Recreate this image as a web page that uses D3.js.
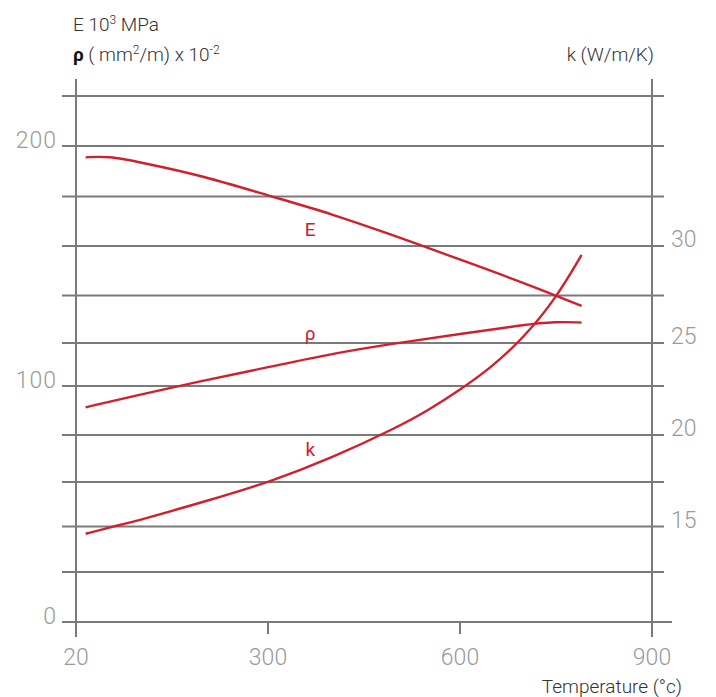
<!DOCTYPE html>
<html><head><meta charset="utf-8">
<script src="https://cdn.jsdelivr.net/npm/d3@7"></script>
<style>
body{margin:0;background:#fff;}
svg{display:block;font-family:Roboto,"Noto Sans",sans-serif;}
</style></head>
<body><svg id="c" width="716" height="697"></svg>
<script>
// ---- data ----
const leftTickValues = [0,20,40,60,80,100,120,140,160,180,200,220];
const leftTickLabels = {0:"0",100:"100",200:"200"};
const rightTickValues = [15,20,25,30];
const xTickValues = [0,300,600,900];
const xTickLabels = ["20","300","600","900"];
// E (10^3 MPa), left scale
const eTemp  = [15,50,100,200,300,400,500,542,600,700,790];
const eVal   = [195.5,196,193.6,188.1,180.4,173,163.9,160,154.5,145.1,135.6];
// rho (mm2/m x 10^-2), left scale
const rTemp  = [15,100,200,300,400,500,600,700,750,790];
const rVal   = [91.3,96.5,102.6,108.7,115.1,119.9,123.8,127.7,129,128.6];
// k (W/m/K), right scale
const kTemp  = [15,58,100,200,303,400,500,550,600,650,700,750,790];
const kVal   = [14.6,15,15.36,16.39,17.5,18.78,20.36,21.25,22.3,23.6,25.3,27.35,29.55];
const curveLabels = [
  {text:"E", t:366, v:166.9},
  {text:"ρ", t:366, v:124.2},
  {text:"k", t:366, v:74}
];

// ---- layout ----
const gridY = [622,572,526.5,482,435,386,343,295.5,246,196.5,146,96];
const red = "#d0202e", grid = "#7a7a7a";
const svg = d3.select("#c");
const x = d3.scaleLinear().domain([0,900]).range([76,652]);
const yL = d3.scaleLinear().domain(leftTickValues).range(gridY);
const yR = d3.scaleLinear().domain(leftTickValues.map(v=>10+v/8)).range(gridY);

const x0 = x(0)-14, x1 = x(900)+12;
svg.append("g").selectAll("line").data(leftTickValues).join("line")
  .attr("x1",x0).attr("x2",d=>d===0? x1+8 : x1)
  .attr("y1",d=>yL(d)).attr("y2",d=>yL(d))
  .attr("stroke",grid).attr("stroke-width",2);
[0,900].forEach(t=>{
  svg.append("line").attr("x1",x(t)).attr("x2",x(t)).attr("y1",79).attr("y2",yL(0)+15)
    .attr("stroke",grid).attr("stroke-width",2);
});
svg.append("g").selectAll("line").data(xTickValues.slice(1,3)).join("line")
  .attr("x1",d=>x(d)).attr("x2",d=>x(d)).attr("y1",yL(0)).attr("y2",yL(0)+12)
  .attr("stroke",grid).attr("stroke-width",2);

const tickStyle = s=>s.attr("fill","#9a9a9a").attr("font-size",23).attr("font-weight",300);
svg.append("g").selectAll("text").data(leftTickValues.filter(v=>leftTickLabels[v]!==undefined)).join("text")
  .attr("x",57).attr("y",d=>yL(d)+2).attr("text-anchor","end")
  .attr("letter-spacing",1)
  .text(d=>leftTickLabels[d]).call(tickStyle);
svg.append("g").selectAll("text").data(rightTickValues).join("text")
  .attr("x",671).attr("y",d=>yR(d)+1).attr("text-anchor","start")
  .text(d=>d).call(tickStyle);
svg.append("g").selectAll("text").data(xTickValues).join("text")
  .attr("x",d=>x(d)).attr("y",665).attr("text-anchor","middle")
  .text((d,i)=>xTickLabels[i]).call(tickStyle);

const t1 = svg.append("text").attr("x",73).attr("y",31).attr("fill","#333").attr("font-size",19).attr("font-weight",300);
t1.append("tspan").text("E 10");
t1.append("tspan").attr("font-size",12).attr("dy",-7).text("3");
t1.append("tspan").attr("dy",7).text(" MPa");
const t2 = svg.append("text").attr("x",73).attr("y",61).attr("fill","#333").attr("font-size",19).attr("font-weight",300);
t2.append("tspan").attr("font-weight",700).attr("fill","#111").text("ρ");
t2.append("tspan").text(" ( mm");
t2.append("tspan").attr("font-size",12).attr("dy",-7).text("2");
t2.append("tspan").attr("dy",7).text("/m) x 10");
t2.append("tspan").attr("font-size",12).attr("dy",-7).text("-2");
svg.append("text").attr("x",654).attr("y",61).attr("text-anchor","end").attr("fill","#333")
  .attr("font-size",19).attr("font-weight",300).text("k (W/m/K)");
svg.append("text").attr("x",682).attr("y",693).attr("text-anchor","end").attr("fill","#333")
  .attr("font-size",19).attr("font-weight",300).text("Temperature (°c)");

const lineL = d3.line().x(d=>x(d[0])).y(d=>yL(d[1])).curve(d3.curveBasis);
const lineR = d3.line().x(d=>x(d[0])).y(d=>yR(d[1])).curve(d3.curveBasis);
const path = (d,gen)=>svg.append("path").attr("d",gen(d)).attr("fill","none")
  .attr("stroke",red).attr("stroke-width",2.4);
path(d3.zip(eTemp,eVal),lineL);
path(d3.zip(rTemp,rVal),lineL);
path(d3.zip(kTemp,kVal),lineR);

svg.append("g").selectAll("text").data(curveLabels).join("text")
  .attr("x",d=>x(d.t)).attr("y",d=>yL(d.v)).attr("dy","0.35em").attr("text-anchor","middle")
  .attr("fill",red).attr("font-size",19).text(d=>d.text);
</script></body></html>
